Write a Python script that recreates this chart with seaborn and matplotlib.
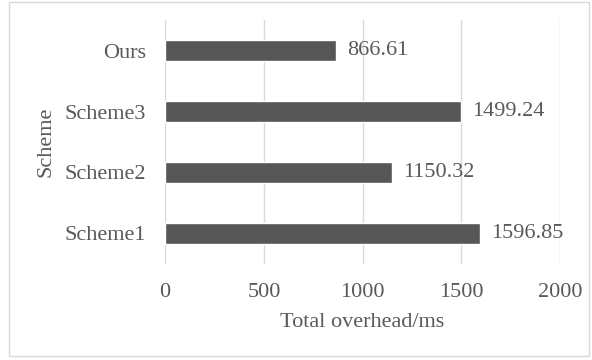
import matplotlib
matplotlib.use("Agg")
import matplotlib.pyplot as plt
from matplotlib.patches import Rectangle
import seaborn as sns
import pandas as pd

schemes = ["Ours", "Scheme3", "Scheme2", "Scheme1"]
overhead_ms = [866.61, 1499.24, 1150.32, 1596.85]
x_ticks = [0, 500, 1000, 1500, 2000]

TEXT = "#595959"
BAR = "#575757"
GRID = "#d9d9d9"
FS = 16

sns.set_theme(style="white")
plt.rcParams["font.family"] = ["Liberation Serif", "DejaVu Serif"]

df = pd.DataFrame({"Scheme": schemes, "Total overhead/ms": overhead_ms})

fig = plt.figure(figsize=(5.92, 3.6), dpi=100)
ax = fig.add_axes([0.279, 0.267, 0.667, 0.677])

sns.barplot(data=df, y="Scheme", x="Total overhead/ms", order=schemes,
            orient="h", color=BAR, saturation=1, width=0.35, ax=ax, zorder=3)

ax.set_xlim(0, 2000)
ax.set_ylim(3.5, -0.5)
ax.set_xticks(x_ticks)
ax.set_xticklabels([str(t) for t in x_ticks])
ax.grid(axis="x", color=GRID, linewidth=1, zorder=0)
ax.grid(axis="y", visible=False)
for s in ax.spines.values():
    s.set_visible(False)

ax.tick_params(axis="both", length=0, labelsize=FS, labelcolor=TEXT)
ax.tick_params(axis="x", pad=14)
ax.tick_params(axis="y", pad=14)
ax.set_xlabel("Total overhead/ms", fontsize=FS, color=TEXT, labelpad=8)
ax.set_ylabel("Scheme", fontsize=FS, color=TEXT, labelpad=6)

for c in ax.containers:
    ax.bar_label(c, labels=[f"{v:.2f}" for v in overhead_ms], padding=8,
                 fontsize=FS, color=TEXT)

fig.patches.append(Rectangle((9 / 592, 4 / 360), 580 / 592, 354 / 360,
                             transform=fig.transFigure, fill=False,
                             edgecolor="#d9d9d9", linewidth=1))

fig.savefig("out.png", dpi=100)
